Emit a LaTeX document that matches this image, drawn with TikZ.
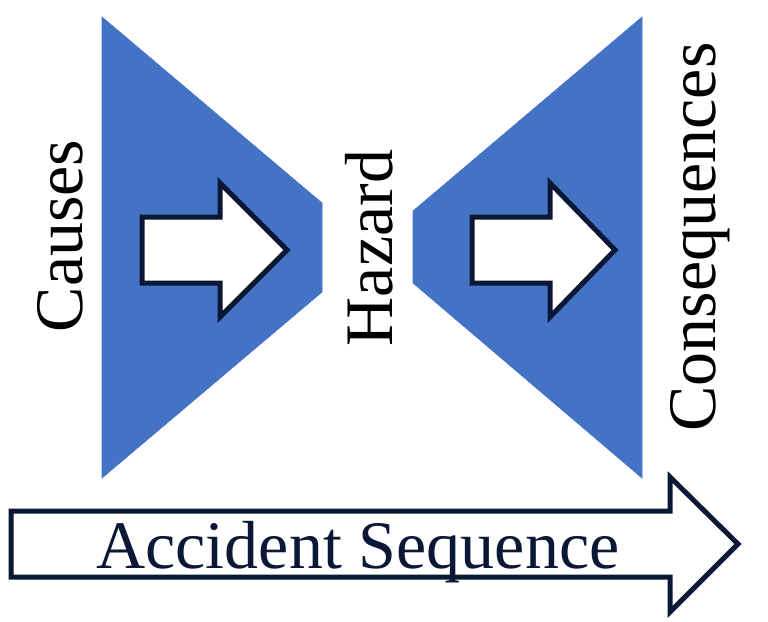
\documentclass[tikz,border=0pt]{standalone}
\usepackage{fontspec}
\setmainfont{Liberation Serif}
\usepackage{xcolor}
\definecolor{funnel-base}{RGB}{68,114,196}
\definecolor{outline-dark}{RGB}{10,24,54}
\definecolor{text-primary}{RGB}{0,0,0}
\usepackage{tikz}
\usetikzlibrary{positioning}

\begin{document}
\begin{tikzpicture}[
  x=1pt, y=-1pt,
  funnel/.style={
    fill=funnel-base,
    draw=funnel-base,
    line width=0.6pt
  },
  blockarrow/.style={
    fill=white,
    draw=outline-dark,
    line width=5pt,
    line join=miter
  },
  label/.style={
    font=\fontsize{68}{80}\selectfont,
    text=text-primary,
    inner sep=0pt
  }
]
\useasboundingbox (0,0) rectangle (768,621);

% Funnels left and right of the hazard
\draw[funnel] (102,17) -- (322,203) -- (322,292) -- (102,478) -- cycle;
\draw[funnel] (642,17) -- (413,211) -- (413,283) -- (642,478) -- cycle;

% Arrows inside the funnels
\draw[blockarrow] (142,217) -- (220,217) -- (220,183) -- (287,250)
  -- (220,317) -- (220,283) -- (142,283) -- cycle;
\draw[blockarrow] (472,217) -- (550,217) -- (550,183) -- (615,250)
  -- (550,317) -- (550,283) -- (472,283) -- cycle;

% Sequence arrow at the bottom
\draw[blockarrow] (11,511) -- (670,511) -- (670,477) -- (738,544)
  -- (670,612) -- (670,577) -- (11,577) -- cycle;

% Labels
\node[label, rotate=90, anchor=base] (causes) at (82,236) {Causes};
\node[label, rotate=90, anchor=base] (hazard) at (392,248) {Hazard};
\node[label, rotate=90, anchor=base] (consequences) at (715,237) {Consequences};
\node[label, text=outline-dark, anchor=base] (sequence) at (358,568) {Accident Sequence};

\end{tikzpicture}
\end{document}
